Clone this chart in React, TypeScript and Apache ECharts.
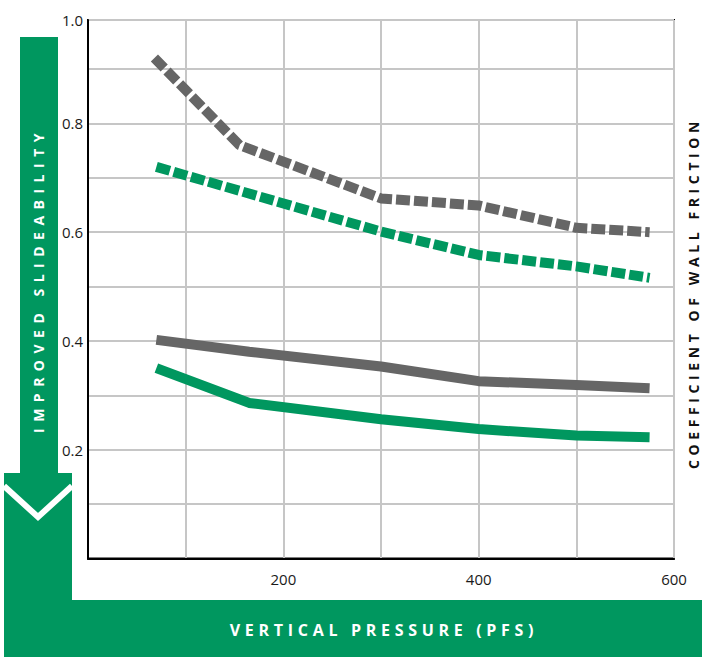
import React, { useEffect, useRef } from "react";
import * as echarts from "echarts";

// ---- data ----
const xTickLabels = [200, 400, 600];
const yTickLabels = [0.2, 0.4, 0.6, 0.8];
const yTopLabel = "1.0";

const grayDashedX = [68, 155, 300, 400, 500, 575];
const grayDashedY = [0.92, 0.76, 0.662, 0.649, 0.608, 0.6];
const greenDashedX = [70, 300, 400, 500, 575];
const greenDashedY = [0.72, 0.601, 0.558, 0.537, 0.516];
const graySolidX = [70, 165, 300, 400, 500, 575];
const graySolidY = [0.402, 0.38, 0.353, 0.326, 0.319, 0.313];
const greenSolidX = [70, 165, 300, 400, 500, 575];
const greenSolidY = [0.35, 0.286, 0.256, 0.238, 0.226, 0.223];

const LEFT_TITLE = "IMPROVED SLIDEABILITY";
const RIGHT_TITLE = "COEFFICIENT OF WALL FRICTION";
const BOTTOM_TITLE = "VERTICAL PRESSURE (PFS)";

const GREEN = "#00975f";
const GRAY = "#666666";

const Y_MAX = 0.99;

const pairs = (xs: number[], ys: number[]) => xs.map((x, i) => [x, ys[i]]);

export default function App() {
  const ref = useRef<HTMLDivElement>(null);

  useEffect(() => {
    const el = ref.current!;
    const chart = echarts.init(el, undefined, { renderer: "svg" });
    const labelStyle = {
      color: "#1a1a1a",
      fontSize: 15,
      fontFamily: "Open Sans",
    };
    const titleFont = {
      fontFamily: "Open Sans",
      fontWeight: "bold" as const,
      fontSize: 14,
    };
    chart.setOption({
      animation: false,
      grid: {
        left: 88,
        top: 20,
        right: 28,
        bottom: 98.5,
        show: true,
        borderColor: "#000",
        borderWidth: 2,
        backgroundColor: "transparent",
      },
      xAxis: {
        type: "value",
        min: 0,
        max: 600,
        interval: 100,
        axisLine: { show: true, lineStyle: { color: "#000", width: 2 } },
        axisTick: { show: false },
        splitLine: { show: true, lineStyle: { color: "#c6c6c6", width: 2 } },
        axisLabel: {
          ...labelStyle,
          margin: 13,
          formatter: (v: number) => (xTickLabels.includes(v) ? String(v) : ""),
        },
      },
      yAxis: {
        type: "value",
        min: 0,
        max: Y_MAX,
        interval: 0.1,
        axisLine: { show: true, lineStyle: { color: "#000", width: 2 } },
        axisTick: { show: false },
        splitLine: { show: true, lineStyle: { color: "#c6c6c6", width: 2 } },
        axisLabel: {
          ...labelStyle,
          margin: 5,
          showMaxLabel: true,
          formatter: (v: number) => {
            if (Math.abs(v - Y_MAX) < 1e-9) return yTopLabel;
            return yTickLabels.some((t) => Math.abs(t - v) < 1e-6) ? v.toFixed(1) : "";
          },
        },
      },
      series: [
        {
          type: "line",
          data: pairs(grayDashedX, grayDashedY),
          symbol: "none",
          lineStyle: { color: GRAY, width: 10, type: [14, 4], cap: "butt" },
        },
        {
          type: "line",
          data: pairs(greenDashedX, greenDashedY),
          symbol: "none",
          lineStyle: { color: GREEN, width: 10, type: [14, 4], cap: "butt" },
        },
        {
          type: "line",
          data: pairs(graySolidX, graySolidY),
          symbol: "none",
          lineStyle: { color: GRAY, width: 10, cap: "butt" },
        },
        {
          type: "line",
          data: pairs(greenSolidX, greenSolidY),
          symbol: "none",
          lineStyle: { color: GREEN, width: 10, cap: "butt" },
        },
      ],
      graphic: [
        {
          type: "polygon",
          shape: {
            points: [
              [4, 473],
              [72, 473],
              [72, 600],
              [702, 600],
              [702, 657],
              [4, 657],
            ],
          },
          style: { fill: GREEN },
        },
        {
          type: "rect",
          shape: { x: 20, y: 37, width: 38, height: 440 },
          style: { fill: GREEN },
        },
        {
          type: "polyline",
          shape: {
            points: [
              [4, 486],
              [38, 517],
              [72, 486],
            ],
          },
          style: { stroke: "#fff", lineWidth: 6, fill: "none" },
        },
        {
          type: "text",
          x: 38,
          y: 280,
          rotation: Math.PI / 2,
          style: {
            text: LEFT_TITLE,
            ...titleFont,
            fill: "#fff",
            align: "center",
            verticalAlign: "middle",
          },
        },
        {
          type: "text",
          x: 693,
          y: 293,
          rotation: Math.PI / 2,
          style: {
            text: RIGHT_TITLE,
            ...titleFont,
            fill: "#111",
            align: "center",
            verticalAlign: "middle",
          },
        },
        {
          type: "text",
          x: 384,
          y: 630,
          style: {
            text: BOTTOM_TITLE,
            ...titleFont,
            fontSize: 16,
            fill: "#fff",
            align: "center",
            verticalAlign: "middle",
          },
        },
      ],
    });

    const applySpacing = () => {
      el.querySelectorAll("text").forEach((t) => {
        const s = t.textContent;
        if (s === LEFT_TITLE) (t as any).style.letterSpacing = "6.5px";
        else if (s === RIGHT_TITLE) (t as any).style.letterSpacing = "4.6px";
        else if (s === BOTTOM_TITLE) (t as any).style.letterSpacing = "4.7px";
      });
    };
    applySpacing();
    chart.on("finished", applySpacing);
    const timer = setTimeout(applySpacing, 50);

    return () => {
      clearTimeout(timer);
      chart.dispose();
    };
  }, []);

  return (
    <div
      ref={ref}
      style={{ position: "absolute", left: 0, top: 0, width: 702, height: 657 }}
    />
  );
}
